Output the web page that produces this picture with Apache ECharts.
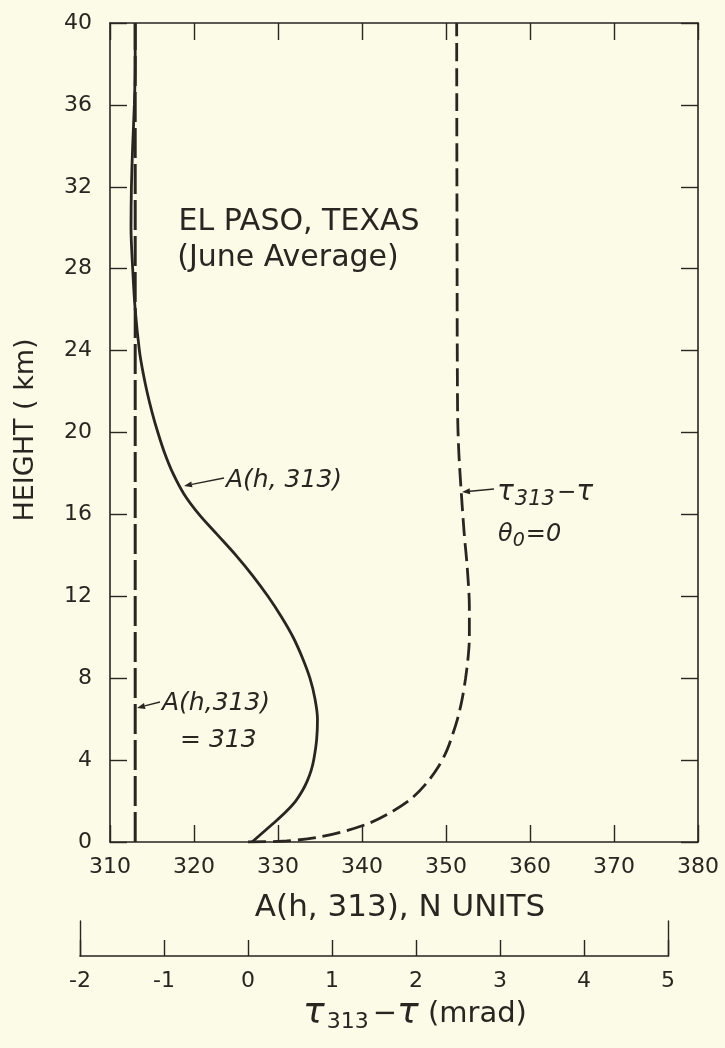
<!DOCTYPE html>
<html>
<head>
<meta charset="utf-8">
<script src="https://cdn.jsdelivr.net/npm/echarts@6.0.0/dist/echarts.min.js"></script>
<style>
  html, body { margin: 0; padding: 0; background: #fbfbe8; }
  #chart { width: 725px; height: 1048px; }
</style>
</head>
<body>
<div id="chart"></div>
<script>
// height profile, El Paso June average
// A(h,313) in N units vs height (km)
var aCurve = [
  [326.9, 0], [328.3, 0.5], [329.7, 1], [331.0, 1.5], [332.1, 2], [332.9, 2.5], [333.5, 3],
  [333.95, 3.5], [334.25, 4], [334.6, 5], [334.7, 6], [334.4, 7], [333.8, 8], [332.9, 9],
  [331.8, 10], [330.4, 11], [328.8, 12], [327.0, 13], [325.0, 14], [322.8, 15], [320.6, 16],
  [318.8, 17], [317.5, 18], [316.5, 19], [315.7, 20], [315.0, 21], [314.4, 22], [313.9, 23],
  [313.5, 24], [313.0, 26], [312.7, 28], [312.5, 30], [312.55, 32], [312.7, 34], [312.9, 36],
  [313.0, 38], [313.0, 40]
];
// reference line A(h,313) = 313
var constLine = [[313, 0], [313, 40]];
// tau313 - tau in mrad vs height (km), theta0 = 0
var tauCurve = [
  [0, 0], [0.46, 0.05], [0.82, 0.22], [1.16, 0.54], [1.45, 0.93], [1.71, 1.47], [1.94, 2.1],
  [2.13, 2.9], [2.27, 3.7], [2.37, 4.5], [2.44, 5.3], [2.50, 6.1], [2.55, 7], [2.59, 8],
  [2.62, 9], [2.635, 10], [2.635, 11.5], [2.61, 13.4], [2.575, 15], [2.54, 17], [2.51, 19],
  [2.495, 21], [2.488, 30], [2.484, 40]
];
var nTicks = [310, 320, 330, 340, 350, 360, 370, 380];
var hTicks = [0, 4, 8, 12, 16, 20, 24, 28, 32, 36, 40];
var mradTicks = [-2, -1, 0, 1, 2, 3, 4, 5];

var ink = '#2a2520';
var font = 'DejaVu Sans';

function arrow(x1, y1, x2, y2) {
  // line from label (x1,y1) to tip (x2,y2) with small head
  var dx = x2 - x1, dy = y2 - y1, len = Math.sqrt(dx * dx + dy * dy);
  var ux = dx / len, uy = dy / len;
  var hl = 8, hw = 3;
  var bx = x2 - ux * hl, by = y2 - uy * hl;
  return [
    { type: 'line', shape: { x1: x1, y1: y1, x2: bx, y2: by }, style: { stroke: ink, lineWidth: 1.3 } },
    { type: 'polygon', shape: { points: [[x2, y2], [bx - uy * hw, by + ux * hw], [bx + uy * hw, by - ux * hw]] },
      style: { fill: ink } }
  ];
}

var myChart = echarts.init(document.getElementById('chart'));

var axisCommon = {
  axisLine: { show: true, onZero: false, lineStyle: { color: ink, width: 1.6 } },
  axisTick: { show: true, inside: true, length: 17, lineStyle: { color: ink, width: 1.4 } },
  splitLine: { show: false }
};

var graphics = [
  { type: 'text', x: 299, y: 222, style: { text: 'EL PASO, TEXAS', font: '30px "' + font + '"', fill: ink, align: 'center', verticalAlign: 'middle' } },
  { type: 'text', x: 288, y: 258, style: { text: '(June Average)', font: '30px "' + font + '"', fill: ink, align: 'center', verticalAlign: 'middle' } },
  { type: 'text', x: 26, y: 430, rotation: Math.PI / 2, style: { text: 'HEIGHT ( km)', font: '27px "' + font + '"', fill: ink, align: 'center', verticalAlign: 'middle' } },
  { type: 'text', x: 400, y: 908, style: { text: 'A(h, 313), N UNITS', font: '31px "' + font + '"', fill: ink, align: 'center', verticalAlign: 'middle' } },
  { type: 'text', x: 415, y: 1014, style: {
      text: '{t|τ}{s|313}{n|−}{t|τ}{n| (mrad)}', align: 'center', verticalAlign: 'middle',
      rich: {
        t: { fontFamily: font, fontSize: 36, fontStyle: 'italic', fill: ink },
        s: { fontFamily: font, fontSize: 22, fill: ink, padding: [16, 4, 0, 2] },
        n: { fontFamily: font, fontSize: 29, fill: ink }
      } } },
  // annotations
  { type: 'text', x: 226, y: 480, style: { text: 'A(h, 313)', font: 'italic 25px "' + font + '"', fill: ink, verticalAlign: 'middle' } },
  { type: 'text', x: 162, y: 703, style: { text: 'A(h,313)', font: 'italic 25px "' + font + '"', fill: ink, verticalAlign: 'middle' } },
  { type: 'text', x: 180, y: 740, style: { text: '= 313', font: 'italic 25px "' + font + '"', fill: ink, verticalAlign: 'middle' } },
  { type: 'text', x: 497, y: 493, style: {
      text: '{t|τ}{s|313}{n|−}{t|τ}', verticalAlign: 'middle',
      rich: {
        t: { fontFamily: font, fontSize: 28, fontStyle: 'italic', fill: ink },
        s: { fontFamily: font, fontSize: 21, fontStyle: 'italic', fill: ink, padding: [14, 2, 0, 1] },
        n: { fontFamily: font, fontSize: 23, fill: ink }
      } } },
  { type: 'text', x: 498, y: 535, style: {
      text: '{t|θ}{s|0}{t|=0}', verticalAlign: 'middle',
      rich: {
        t: { fontFamily: font, fontSize: 24, fontStyle: 'italic', fill: ink },
        s: { fontFamily: font, fontSize: 19, fontStyle: 'italic', fill: ink, padding: [12, 1, 0, 0] }
      } } }
].concat(arrow(224, 478, 184, 486), arrow(160, 702, 137, 708), arrow(494, 489, 462, 492));

myChart.setOption({
  backgroundColor: '#fbfbe8',
  animation: false,
  grid: [
    { left: 110, top: 23, width: 588, height: 819, outerBoundsMode: 'none', containLabel: false },
    { left: 80, top: 921, width: 588, height: 35, outerBoundsMode: 'none', containLabel: false }
  ],
  xAxis: [
    Object.assign({}, axisCommon, {
      gridIndex: 0, type: 'value', position: 'bottom', min: nTicks[0], max: nTicks[nTicks.length - 1], interval: 10,
      axisLabel: { color: ink, fontFamily: font, fontSize: 22, margin: 14 }
    }),
    Object.assign({}, axisCommon, {
      gridIndex: 0, type: 'value', position: 'top', min: 310, max: 380, interval: 10,
      axisLabel: { show: false }
    }),
    // hidden mrad scale for the tau curve, aligned with the lower scale
    { gridIndex: 0, type: 'value', show: false, min: -1.643, max: 5.357 },
    Object.assign({}, axisCommon, {
      gridIndex: 1, type: 'value', position: 'bottom', min: mradTicks[0], max: mradTicks[mradTicks.length - 1], interval: 1,
      axisTick: { show: true, inside: true, length: 16, lineStyle: { color: ink, width: 1.4 } },
      axisLabel: { color: ink, fontFamily: font, fontSize: 22, margin: 14 }
    })
  ],
  yAxis: [
    Object.assign({}, axisCommon, {
      gridIndex: 0, type: 'value', position: 'left', min: hTicks[0], max: hTicks[hTicks.length - 1], interval: 4,
      axisLabel: { color: ink, fontFamily: font, fontSize: 22, margin: 18 }
    }),
    Object.assign({}, axisCommon, {
      gridIndex: 0, type: 'value', position: 'right', min: 0, max: 40, interval: 4,
      axisLabel: { show: false }
    }),
    { gridIndex: 1, type: 'value', position: 'left', min: 0, max: 1,
      axisLine: { show: true, onZero: false, lineStyle: { color: ink, width: 1.4 } }, axisTick: { show: false },
      axisLabel: { show: false }, splitLine: { show: false } },
    { gridIndex: 1, type: 'value', position: 'right', min: 0, max: 1,
      axisLine: { show: true, onZero: false, lineStyle: { color: ink, width: 1.4 } }, axisTick: { show: false },
      axisLabel: { show: false }, splitLine: { show: false } }
  ],
  series: [
    {
      name: 'A(h,313)=313', type: 'line', xAxisIndex: 0, yAxisIndex: 0, data: constLine,
      showSymbol: false, lineStyle: { color: ink, width: 3, type: [30, 6] }
    },
    {
      name: 'A(h,313)', type: 'line', xAxisIndex: 0, yAxisIndex: 0, data: aCurve,
      smooth: 0.3, showSymbol: false, lineStyle: { color: ink, width: 2.8 }
    },
    {
      name: 'tau313-tau', type: 'line', xAxisIndex: 2, yAxisIndex: 0, data: tauCurve,
      smooth: 0.3, showSymbol: false, lineStyle: { color: ink, width: 2.8, type: [18, 7] }
    }
  ],
  graphic: graphics
});
</script>
</body>
</html>
